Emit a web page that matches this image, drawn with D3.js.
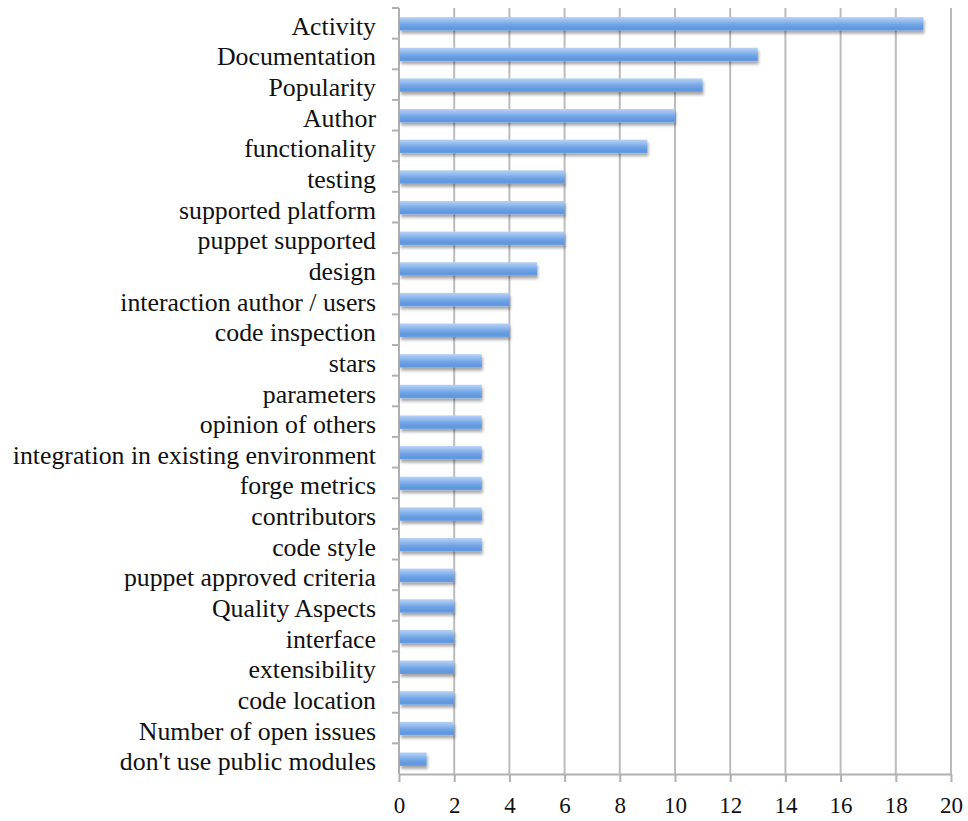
<!DOCTYPE html>
<html>
<head>
<meta charset="utf-8">
<script src="https://cdn.jsdelivr.net/npm/d3@7"></script>
<style>
  html, body { margin: 0; padding: 0; background: #fff; }
  svg { display: block; }
  .lbl { font-family: "Liberation Serif", "DejaVu Serif", serif; fill: #111; }
</style>
</head>
<body>
<svg id="chart" width="968" height="821"></svg>
<script>
// Criteria and how many respondents named each one
const categories = [
  "Activity", "Documentation", "Popularity", "Author", "functionality",
  "testing", "supported platform", "puppet supported", "design",
  "interaction author / users", "code inspection", "stars", "parameters",
  "opinion of others", "integration in existing environment", "forge metrics",
  "contributors", "code style", "puppet approved criteria", "Quality Aspects",
  "interface", "extensibility", "code location", "Number of open issues",
  "don't use public modules"
];
const counts = [19, 13, 11, 10, 9, 6, 6, 6, 5, 4, 4, 3, 3, 3, 3, 3, 3, 3, 2, 2, 2, 2, 2, 2, 1];
const xTicks = [0, 2, 4, 6, 8, 10, 12, 14, 16, 18, 20];

const svg = d3.select("#chart");
const plot = { left: 399, right: 951, top: 8, bottom: 774 };

const x = d3.scaleLinear().domain([0, 20]).range([plot.left, plot.right]);
const y = d3.scaleBand().domain(categories).range([plot.top, plot.bottom]).padding(0);
const step = y.step();
const barH = step * 0.44;

const defs = svg.append("defs");
const grad = defs.append("linearGradient")
  .attr("id", "barFill").attr("x1", 0).attr("y1", 0).attr("x2", 0).attr("y2", 1);
[["0%", "#b8d3f5"], ["30%", "#92bbee"], ["55%", "#72a5e6"], ["85%", "#5f96de"], ["100%", "#6c9fe2"]]
  .forEach(([o, c]) => grad.append("stop").attr("offset", o).attr("stop-color", c));
const shadow = defs.append("filter").attr("id", "barShadow")
  .attr("x", "-5%").attr("y", "-40%").attr("width", "115%").attr("height", "200%");
shadow.append("feDropShadow")
  .attr("dx", 1).attr("dy", 3).attr("stdDeviation", 1.6)
  .attr("flood-color", "#000").attr("flood-opacity", 0.35);

// Vertical gridlines
svg.append("g")
  .selectAll("line").data(xTicks.slice(1)).join("line")
  .attr("x1", d => x(d)).attr("x2", d => x(d))
  .attr("y1", plot.top).attr("y2", plot.bottom)
  .attr("stroke", "#bcbcbc").attr("stroke-width", 2);

// Bottom axis
const xAxis = svg.append("g")
  .attr("transform", `translate(0,${plot.bottom})`)
  .call(d3.axisBottom(x).tickValues(xTicks).tickSize(8).tickPadding(15).tickSizeOuter(0));
xAxis.select(".domain").attr("stroke", "#b0b0b0").attr("stroke-width", 2);
xAxis.selectAll(".tick line").attr("stroke", "#b0b0b0").attr("stroke-width", 2);
xAxis.selectAll(".tick text")
  .attr("class", "lbl").attr("font-size", 23).attr("dy", "0.71em");

// Left axis with ticks on category boundaries
const yAxis = svg.append("g");
yAxis.append("line")
  .attr("x1", plot.left).attr("x2", plot.left)
  .attr("y1", plot.top).attr("y2", plot.bottom)
  .attr("stroke", "#b0b0b0").attr("stroke-width", 2);
yAxis.selectAll("line.tk").data(categories).join("line").attr("class", "tk")
  .attr("x1", plot.left - 7).attr("x2", plot.left)
  .attr("y1", d => y(d)).attr("y2", d => y(d))
  .attr("stroke", "#b0b0b0").attr("stroke-width", 2);

// Category labels
svg.append("g").selectAll("text").data(categories).join("text")
  .attr("class", "lbl")
  .attr("font-size", 25.8)
  .attr("text-anchor", "end")
  .attr("x", 376)
  .attr("y", d => y(d) + step / 2 + 11.5)
  .text(d => d);

// Bars
svg.append("g").selectAll("rect").data(categories).join("rect")
  .attr("x", x(0) + 1)
  .attr("y", d => y(d) + (step - barH) / 2 + 0.5)
  .attr("width", (d, i) => x(counts[i]) - x(0) - 1)
  .attr("height", barH)
  .attr("fill", "url(#barFill)")
  .attr("filter", "url(#barShadow)");
</script>
</body>
</html>
